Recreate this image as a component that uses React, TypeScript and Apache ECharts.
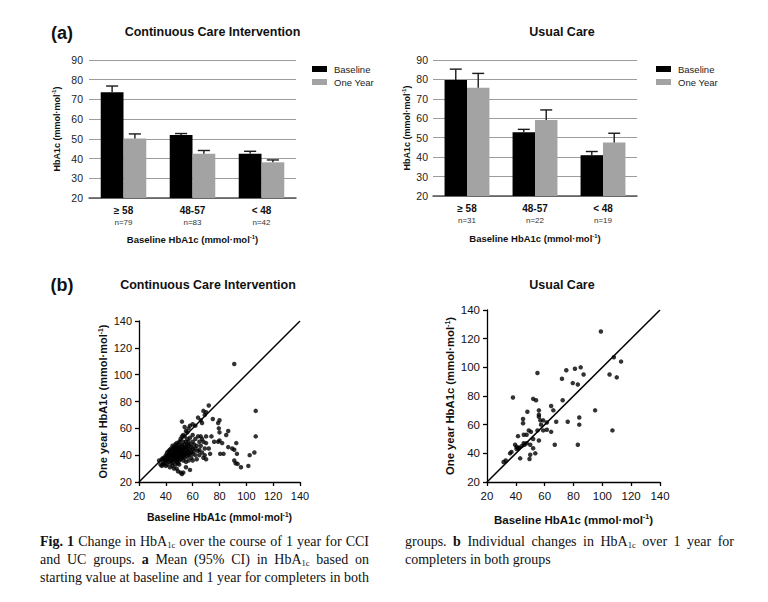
import React, { useEffect, useRef } from "react";
import * as echarts from "echarts";

// ---------- data ----------
const categories = ["≥ 58", "48-57", "< 48"];
const cciN = [79, 83, 42];
const ucN = [31, 22, 19];

const cciBaseline = [73.6, 51.9, 42.5];
const cciBaselineUpper = [76.8, 52.7, 43.7];
const cciOneYear = [50.2, 42.4, 38.1];
const cciOneYearUpper = [52.5, 44.1, 39.3];

const ucBaseline = [79.7, 52.8, 41.0];
const ucBaselineUpper = [85.3, 54.3, 42.9];
const ucOneYear = [75.7, 59.1, 47.6];
const ucOneYearUpper = [83.1, 64.3, 52.3];

const identityLine = [20, 140];

// [baseline, one year] per participant
const cciPoints = [
  [37, 37], [38, 38], [40, 40], [41, 42], [42, 43], [43, 44], [44, 45], [45, 47], [46, 46], [47, 48], [48, 49], [49, 47], [50, 50], [51, 52], [52, 54], [53, 55], [54, 54], [55, 58], [56, 57], [52, 65], [54, 61], [57, 60], [58, 62], [60, 63], [62, 62], [64, 68], [66, 66], [67, 64], [68, 73], [69, 70], [72, 77], [70, 72],
  [35, 36], [36, 33], [37, 32], [38, 35], [38, 33], [39, 37], [39, 34], [40, 36], [40, 32], [40, 38],
  [41, 39], [41, 36], [41, 33], [42, 40], [42, 38], [42, 35], [43, 41], [43, 39], [43, 37], [43, 31], [44, 42], [44, 40], [44, 36], [44, 34], [45, 43], [45, 41], [45, 39], [45, 38], [45, 35], [45, 32], [46, 44], [46, 42], [46, 40], [46, 37], [46, 30],
  [47, 45], [47, 43], [47, 41], [47, 39], [47, 36], [47, 33], [48, 46], [48, 44], [48, 42], [48, 40], [48, 38], [48, 35], [48, 30], [49, 45], [49, 43], [49, 41], [49, 39], [49, 37], [49, 34], [49, 28], [50, 46], [50, 44], [50, 42], [50, 40], [50, 38], [50, 36], [50, 33],
  [51, 48], [51, 45], [51, 43], [51, 41], [51, 39], [51, 37], [51, 27], [52, 47], [52, 44], [52, 42], [52, 40], [52, 38], [52, 26], [53, 50], [53, 46], [53, 43], [53, 41], [53, 39], [53, 36], [53, 27], [54, 48], [54, 45], [54, 42], [54, 40], [54, 38], [55, 50], [55, 46], [55, 44], [55, 41], [55, 35], [55, 31],
  [56, 52], [56, 48], [56, 45], [56, 42], [56, 39], [57, 50], [57, 47], [57, 43], [57, 40], [57, 36], [58, 53], [58, 48], [58, 44], [58, 41], [58, 29], [59, 46], [59, 42], [59, 38], [60, 55], [60, 50], [60, 45], [60, 41], [60, 36],
  [61, 48], [61, 43], [62, 52], [62, 45], [62, 40], [63, 47], [63, 37], [64, 54], [64, 43], [65, 50], [65, 44], [65, 40], [66, 54], [66, 47], [67, 52], [67, 42], [68, 50], [68, 38], [69, 45], [69, 40], [70, 54], [70, 49], [70, 37], [72, 45], [73, 41], [74, 54], [75, 67], [76, 50],
  [80, 66], [79, 64], [79.5, 60], [80, 57], [86.5, 58], [85, 55], [80, 51], [79, 50], [82, 49], [80.5, 41], [83, 41], [86.5, 46], [89.5, 45], [91, 44], [92.5, 49], [93, 41], [91, 36], [92, 34], [93.5, 33.5], [96, 31], [101.5, 32], [102.5, 40], [106, 42], [107, 73], [107, 54], [91, 108],
];

const ucPoints = [
  [99, 125], [108, 107], [113, 104], [105, 95], [110, 93], [75, 98], [81, 99], [85, 100], [87, 95], [72, 92], [79.5, 89], [83, 88], [72.5, 77], [95, 70], [84, 65], [76, 62], [84, 60], [107, 56], [83, 46],
  [55, 96], [38, 79], [52, 78], [54, 77], [48, 69], [56, 70], [56, 67], [56, 65.5], [45, 64], [45, 61], [64.5, 73], [66, 70], [68, 62], [57, 63], [59, 63], [61.5, 61.5], [57.5, 60], [55, 56], [49, 56], [50.5, 55], [47.5, 53], [45.5, 53], [41.5, 52], [59, 56], [61.5, 56.5], [64.5, 55], [52, 50], [56, 49], [45.5, 47], [47.5, 47], [50, 46], [39.5, 46], [40.5, 44.5], [42, 43.5], [40.5, 43], [37, 41], [36, 40], [31.5, 34], [52, 43.5], [50, 39], [53.5, 40], [43, 36.5], [49.5, 36], [67, 46], [33, 35], [42, 44], [44, 45], [46, 46],
];

const captionLeft = [
  "{b|Fig.} {b|1} Change in HbA{s|1c} over the course of 1 year for CCI",
  "and UC groups. {b|a} Mean (95% CI) in HbA{s|1c} based on",
  "starting value at baseline and 1 year for completers in both",
];
const captionRight = [
  "groups. {b|b} Individual changes in HbA{s|1c} over 1 year for",
  "completers in both groups",
];

// ---------- styling ----------
const FONT = "'Liberation Sans', Arial, Helvetica, sans-serif";
const SERIF = "'Liberation Serif', 'Times New Roman', serif";
const CAP = 14;
const SUB = 8.5;

const supRich = (size: number) => ({
  sup: { fontSize: size * 0.62, fontWeight: "bold", fontFamily: FONT, color: "#111", verticalAlign: "top", lineHeight: size * 0.55 },
});

function barXAxis(gridIndex: number, ns: number[], nameGap: number) {
  return {
    type: "category",
    gridIndex,
    data: categories,
    axisTick: { show: false },
    axisLine: { show: true, lineStyle: { color: "#555", width: 1.5 } },
    axisLabel: {
      interval: 0,
      margin: 6,
      formatter: (v: string, i: number) => `{c|${v}}\n{n|n=${ns[i]}}`,
      rich: {
        c: { fontWeight: "bold", fontSize: 10, lineHeight: 13, color: "#111", fontFamily: FONT },
        n: { fontSize: 8, lineHeight: 11, color: "#333", fontFamily: FONT },
      },
    },
    name: "Baseline HbA1c (mmol·mol{sup|-1})",
    nameLocation: "middle",
    nameGap,
    nameTextStyle: { fontSize: 9.5, fontWeight: "bold", color: "#111", fontFamily: FONT, lineHeight: 11, rich: supRich(9.5) },
  };
}

function barYAxis(gridIndex: number, nameGap: number, margin: number) {
  return {
    type: "value",
    gridIndex,
    min: 20,
    max: 90,
    interval: 10,
    axisLine: { show: false },
    axisTick: { show: false },
    splitLine: { show: true, lineStyle: { color: "#9c9c9c", width: 1 } },
    axisLabel: { fontSize: 10.5, color: "#222", margin, fontFamily: FONT },
    name: "HbA1c (mmol·mol{sup|-1})",
    nameLocation: "middle",
    nameGap,
    nameTextStyle: { fontSize: 9, fontWeight: "bold", color: "#111", fontFamily: FONT, lineHeight: 11, rich: supRich(9) },
  };
}

function scatterAxis(kind: "x" | "y", gridIndex: number, labelSize: number, nameSize: number, nameGap: number, margin: number) {
  return {
    type: "value",
    gridIndex,
    min: 20,
    max: 140,
    interval: 20,
    splitLine: { show: false },
    axisLine: { show: true, onZero: false, lineStyle: { color: "#000", width: 1.3 } },
    axisTick: { show: true, length: 4, lineStyle: { color: "#000", width: 1.3 } },
    axisLabel: { fontSize: labelSize, color: "#111", margin, fontFamily: FONT },
    name: kind === "x" ? "Baseline HbA1c (mmol·mol{sup|-1})" : "One year HbA1c (mmol·mol{sup|-1})",
    nameLocation: "middle",
    nameGap,
    nameTextStyle: { fontSize: nameSize, fontWeight: "bold", color: "#111", fontFamily: FONT, lineHeight: nameSize + 2, rich: supRich(nameSize) },
  };
}

function errorSeries(axis: number, means: number[], uppers: number[], sign: number) {
  return {
    type: "custom",
    xAxisIndex: axis,
    yAxisIndex: axis,
    z: 5,
    encode: { x: 0, y: [1, 2] },
    data: means.map((m, i) => [i, m, uppers[i]]),
    renderItem: (_p: any, api: any) => {
      const cat = api.value(0);
      const p1 = api.coord([cat, api.value(1)]);
      const p2 = api.coord([cat, api.value(2)]);
      const band = api.size([1, 0])[0];
      const x = p1[0] + sign * band * 0.165;
      const cap = band * 0.088;
      const st = { stroke: "#1a1a1a", lineWidth: 1.4 };
      return {
        type: "group",
        children: [
          { type: "line", shape: { x1: x, y1: p1[1], x2: x, y2: p2[1] }, style: st },
          { type: "line", shape: { x1: x - cap, y1: p2[1], x2: x + cap, y2: p2[1] }, style: st },
        ],
      };
    },
  };
}

function barSeries(axis: number, name: string, data: number[], color: string) {
  return {
    type: "bar",
    name,
    xAxisIndex: axis,
    yAxisIndex: axis,
    data,
    barWidth: "33%",
    barGap: "0%",
    itemStyle: { color },
  };
}

// caption layout (justified, like the printed figure)
function captionGraphics(lines: string[], x0: number, width: number, y0: number, lh: number, lastJustified: boolean) {
  const canvas = document.createElement("canvas");
  const ctx = canvas.getContext("2d")!;
  const fontFor = (k: string) =>
    k === "b" ? `bold ${CAP}px ${SERIF}` : k === "s" ? `${SUB}px ${SERIF}` : `${CAP}px ${SERIF}`;
  const segs = (w: string) => {
    const out: { k: string; t: string }[] = [];
    const re = /\{(\w)\|([^}]*)\}|([^{]+)/g;
    let m: RegExpExecArray | null;
    while ((m = re.exec(w))) {
      if (m[3] !== undefined) out.push({ k: "n", t: m[3] });
      else out.push({ k: m[1], t: m[2] });
    }
    return out;
  };
  const wWidth = (w: string) =>
    segs(w).reduce((a, s) => {
      ctx.font = fontFor(s.k);
      return a + ctx.measureText(s.t).width;
    }, 0);
  ctx.font = fontFor("n");
  const space = ctx.measureText(" ").width;
  const els: any[] = [];
  lines.forEach((line, li) => {
    const words = line.split(" ");
    const widths = words.map(wWidth);
    const total = widths.reduce((a, b) => a + b, 0);
    const justify = li < lines.length - 1 || lastJustified;
    let gap = justify && words.length > 1 ? (width - total) / (words.length - 1) : space;
    if (gap < space * 0.6) gap = space * 0.6;
    let x = x0;
    words.forEach((w, wi) => {
      els.push({
        type: "text",
        x,
        y: y0 + li * lh,
        style: {
          text: w,
          fontFamily: SERIF,
          fontSize: CAP,
          fill: "#111",
          lineHeight: 16,
          align: "left",
          verticalAlign: "middle",
          rich: {
            b: { fontFamily: SERIF, fontSize: CAP, fontWeight: "bold", fill: "#111", lineHeight: 16 },
            s: { fontFamily: SERIF, fontSize: SUB, fill: "#111", lineHeight: 8, verticalAlign: "bottom" },
          },
        },
      });
      x += widths[wi] + gap;
    });
  });
  return els;
}

function titleText(text: string, x: number, y: number, size = 12.5) {
  return {
    type: "text",
    x,
    y,
    style: { text, fontFamily: FONT, fontSize: size, fontWeight: "bold", fill: "#111", align: "center", verticalAlign: "middle" },
  };
}

export default function App() {
  const ref = useRef<HTMLDivElement>(null);
  useEffect(() => {
    if (!ref.current) return;
    const chart = echarts.init(ref.current, undefined, { renderer: "svg" });
    const legendCommon = {
      data: ["Baseline", "One Year"],
      orient: "vertical",
      icon: "rect",
      itemWidth: 15,
      itemHeight: 6,
      itemGap: 3,
      selectedMode: false,
      textStyle: { fontSize: 9.5, color: "#222", fontFamily: FONT, padding: [0, 0, 0, 2] },
    };
    const option: any = {
      animation: false,
      backgroundColor: "#fff",
      textStyle: { fontFamily: FONT },
      grid: [
        { left: 89, top: 60, width: 207, height: 138 },
        { left: 433, top: 60, width: 204, height: 136 },
        { left: 139, top: 321, width: 161, height: 161 },
        { left: 487, top: 310, width: 173, height: 172 },
      ],
      xAxis: [
        barXAxis(0, cciN, 36),
        barXAxis(1, ucN, 37),
        scatterAxis("x", 2, 11, 10.5, 29, 8),
        scatterAxis("x", 3, 11.5, 11.5, 31, 8),
      ],
      yAxis: [
        barYAxis(0, 27, 6),
        barYAxis(1, 21, 5),
        scatterAxis("y", 2, 11, 11, 26, 7),
        scatterAxis("y", 3, 11.5, 11.3, 30, 7),
      ],
      legend: [
        { ...legendCommon, left: 307, top: 59 },
        { ...legendCommon, left: 651, top: 59 },
      ],
      series: [
        barSeries(0, "Baseline", cciBaseline, "#000"),
        barSeries(0, "One Year", cciOneYear, "#a3a3a3"),
        errorSeries(0, cciBaseline, cciBaselineUpper, -1),
        errorSeries(0, cciOneYear, cciOneYearUpper, 1),
        barSeries(1, "Baseline", ucBaseline, "#000"),
        barSeries(1, "One Year", ucOneYear, "#a3a3a3"),
        errorSeries(1, ucBaseline, ucBaselineUpper, -1),
        errorSeries(1, ucOneYear, ucOneYearUpper, 1),
        {
          type: "line", xAxisIndex: 2, yAxisIndex: 2, symbol: "none", silent: true,
          data: identityLine.map((v) => [v, v]), lineStyle: { color: "#000", width: 1.5 },
        },
        {
          type: "scatter", xAxisIndex: 2, yAxisIndex: 2, symbolSize: 4.5, data: cciPoints,
          itemStyle: { color: "#000" },
        },
        {
          type: "line", xAxisIndex: 3, yAxisIndex: 3, symbol: "none", silent: true,
          data: identityLine.map((v) => [v, v]), lineStyle: { color: "#000", width: 1.5 },
        },
        {
          type: "scatter", xAxisIndex: 3, yAxisIndex: 3, symbolSize: 4.5, data: ucPoints,
          itemStyle: { color: "#000" },
        },
      ],
      graphic: [
        titleText("(a)", 62, 33, 18),
        titleText("Continuous Care Intervention", 212.5, 32),
        titleText("Usual Care", 562, 32),
        titleText("(b)", 62, 285, 18),
        titleText("Continuous Care Intervention", 208, 285),
        titleText("Usual Care", 562, 285),
        ...captionGraphics(captionLeft, 40, 329, 541, 18, true),
        ...captionGraphics(captionRight, 405, 329, 541, 18, false),
      ],
    };
    chart.setOption(option);
    return () => chart.dispose();
  }, []);
  return (
    <div
      ref={ref}
      style={{ position: "absolute", left: 0, top: 0, width: 768, height: 602, background: "#fff" }}
    />
  );
}
